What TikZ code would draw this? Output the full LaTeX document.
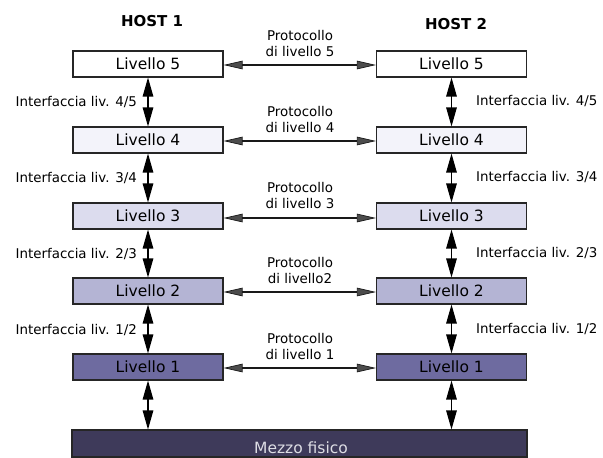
\documentclass[tikz,border=0pt]{standalone}
\usepackage{fontspec}
\setmainfont{DejaVu Sans}
\usetikzlibrary{arrows.meta}
\definecolor{lvfive}{HTML}{FFFFFF}
\definecolor{lvfour}{HTML}{F3F3FA}
\definecolor{lvthree}{HTML}{DCDCEE}
\definecolor{lvtwo}{HTML}{B4B4D4}
\definecolor{lvone}{HTML}{6E6BA0}
\definecolor{mezzo}{HTML}{3E3A5A}
\definecolor{mezzotext}{HTML}{DDDDE4}
\tikzset{
  lvbox/.style={draw=black!85, line width=1.1pt, minimum width=150pt, minimum height=26pt, inner sep=0pt,
    font=\fontsize{15.5}{18}\selectfont},
  ifacelbl/.style={font=\fontsize{13.4}{16}\selectfont, inner sep=0pt},
  protolbl/.style={font=\fontsize{13.4}{16}\selectfont, align=center, inner sep=0pt},
  hostlbl/.style={font=\fontsize{15}{18}\selectfont\bfseries, inner sep=0pt},
  iface/.style={line width=1.2pt, {Triangle[length=19pt,width=10.5pt]}-{Triangle[length=19pt,width=10.5pt]}},
  proto/.style={line width=1.8pt, draw=black!90,
    {Triangle[length=19pt,width=8.5pt,fill=black!70,line width=0.7pt]}-{Triangle[length=19pt,width=8.5pt,fill=black!70,line width=0.7pt]}},
}
\begin{document}
\begin{tikzpicture}[x=1pt,y=-1pt]
\useasboundingbox (0,0) rectangle (603,458);
% hosts
\node[hostlbl] (h1) at (152,21) {HOST 1};
\node[hostlbl] (h2) at (456,24) {HOST 2};
% left stack
\node[lvbox, fill=lvfive]  (a5) at (148,64)  {Livello 5};
\node[lvbox, fill=lvfour]  (a4) at (148,140) {Livello 4};
\node[lvbox, fill=lvthree] (a3) at (148,216) {Livello 3};
\node[lvbox, fill=lvtwo]   (a2) at (148,291) {Livello 2};
\node[lvbox, fill=lvone]   (a1) at (148,367) {Livello 1};
% right stack
\node[lvbox, fill=lvfive]  (b5) at (451.5,64)  {Livello 5};
\node[lvbox, fill=lvfour]  (b4) at (451.5,140) {Livello 4};
\node[lvbox, fill=lvthree] (b3) at (451.5,216) {Livello 3};
\node[lvbox, fill=lvtwo]   (b2) at (451.5,291) {Livello 2};
\node[lvbox, fill=lvone]   (b1) at (451.5,367) {Livello 1};
% physical medium
\node[draw=black!85, line width=1.1pt, fill=mezzo, minimum width=455pt, minimum height=27pt, inner sep=0pt] (m) at (299.5,443.5) {};
\node[text=mezzotext, font=\fontsize{15.5}{18}\selectfont, inner sep=0pt] (mt) at (301,448) {Mezzo fisico};
% interface arrows
\draw[iface] (a5.south) -- (a4.north);
\draw[iface] (a4.south) -- (a3.north);
\draw[iface] (a3.south) -- (a2.north);
\draw[iface] (a2.south) -- (a1.north);
\draw[iface] (a1.south) -- (a1.south |- m.north);
\draw[iface] (b5.south) -- (b4.north);
\draw[iface] (b4.south) -- (b3.north);
\draw[iface] (b3.south) -- (b2.north);
\draw[iface] (b2.south) -- (b1.north);
\draw[iface] (b1.south) -- (b1.south |- m.north);
% interface labels
\node[ifacelbl, anchor=east] (la45) at (137,102) {Interfaccia liv. 4/5};
\node[ifacelbl, anchor=east] (la34) at (137,178) {Interfaccia liv. 3/4};
\node[ifacelbl, anchor=east] (la23) at (137,254) {Interfaccia liv. 2/3};
\node[ifacelbl, anchor=east] (la12) at (137,330) {Interfaccia liv. 1/2};
\node[ifacelbl, anchor=west] (lb45) at (476,101) {Interfaccia liv. 4/5};
\node[ifacelbl, anchor=west] (lb34) at (476,177) {Interfaccia liv. 3/4};
\node[ifacelbl, anchor=west] (lb23) at (476,253) {Interfaccia liv. 2/3};
\node[ifacelbl, anchor=west] (lb12) at (476,329) {Interfaccia liv. 1/2};
% protocol arrows
\draw[proto] ([yshift=-1pt]a5.east) -- ([yshift=-1pt]b5.west);
\draw[proto] ([yshift=-1pt]a4.east) -- ([yshift=-1pt]b4.west);
\draw[proto] ([yshift=-2pt]a3.east) -- ([yshift=-2pt]b3.west);
\draw[proto] ([yshift=-1pt]a2.east) -- ([yshift=-1pt]b2.west);
\draw[proto] ([yshift=-1pt]a1.east) -- ([yshift=-1pt]b1.west);
% protocol labels
\node[protolbl] (p5) at (300,44)  {Protocollo\\di livello 5};
\node[protolbl] (p4) at (300,120) {Protocollo\\di livello 4};
\node[protolbl] (p3) at (300,196) {Protocollo\\di livello 3};
\node[protolbl] (p2) at (300,271) {Protocollo\\di livello2};
\node[protolbl] (p1) at (300,347) {Protocollo\\di livello 1};
\end{tikzpicture}
\end{document}
